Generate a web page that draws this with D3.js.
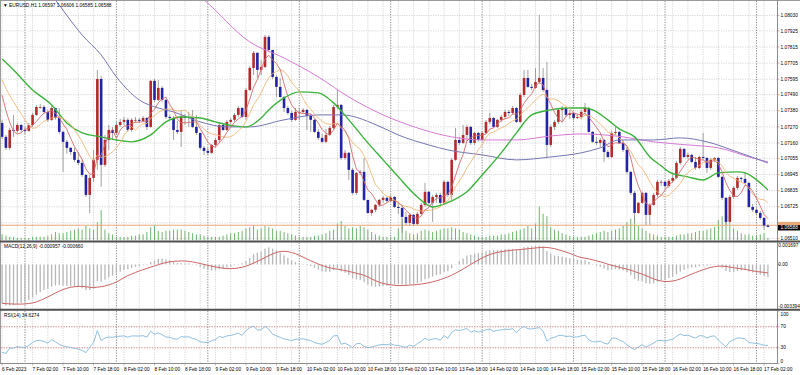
<!DOCTYPE html>
<html>
<head>
<meta charset="utf-8">
<script src="https://cdn.jsdelivr.net/npm/d3@7"></script>
<style>
html, body { margin: 0; padding: 0; background: #fff; }
svg { display: block; }
text { font-family: "Liberation Sans", Arial, sans-serif; font-size: 4.8px; fill: #000; }
</style>
</head>
<body>
<div id="chart"></div>
<script>
// EURUSD H1, 6 Feb 18:00 .. 17 Feb 03:00 (202 bars)
const symbolTitle = "\u25BC EURUSD,H1  1.06597 1.06606 1.06585 1.06588";
const macdTitle = "MACD(12,26,9) -0.000957 -0.000660";
const rsiTitle = "RSI(14) 34.6274";

// closes of the bars just before the window (only used to warm up the fast averages)
const priorCloses = [1.07713,1.07706,1.07686,1.07699,1.07672,1.07645,1.07659,1.07536,1.07386];
const firstOpen = 1.07297;

const closes = [
  1.07202,1.07127,1.07249,1.07243,1.07283,1.07249,1.07243,1.07283,1.07352,1.07406,
  1.07406,1.07372,1.07318,1.07399,1.07331,1.07236,1.07168,1.07127,1.07099,1.07045,
  1.07024,1.06942,1.06806,1.06922,1.07045,1.07597,1.07011,1.07181,1.07249,1.07229,
  1.07283,1.07304,1.07318,1.07249,1.07318,1.07318,1.07311,1.07331,1.07270,1.07584,
  1.07454,1.07536,1.07454,1.07338,1.07331,1.07249,1.07236,1.07345,1.07331,1.07338,
  1.07270,1.07229,1.07127,1.07106,1.07093,1.07147,1.07181,1.07283,1.07249,1.07304,
  1.07318,1.07352,1.07399,1.07338,1.07522,1.07672,1.07775,1.07659,1.07679,1.07884,
  1.07795,1.07611,1.07543,1.07474,1.07399,1.07365,1.07318,1.07372,1.07372,1.07386,
  1.07345,1.07318,1.07236,1.07195,1.07168,1.07215,1.07263,1.07406,1.07420,1.07058,
  1.07093,1.06977,1.06820,1.06956,1.06963,1.06772,1.06683,1.06704,1.06738,1.06772,
  1.06786,1.06765,1.06792,1.06724,1.06717,1.06656,1.06615,1.06670,1.06608,1.06677,
  1.06738,1.06827,1.06752,1.06792,1.06806,1.06752,1.06895,1.06806,1.07045,1.07181,
  1.07161,1.07215,1.07270,1.07161,1.07229,1.07181,1.07229,1.07304,1.07331,1.07270,
  1.07318,1.07338,1.07372,1.07365,1.07399,1.07304,1.07488,1.07604,1.07543,1.07536,
  1.07577,1.07604,1.07522,1.07147,1.07270,1.07304,1.07386,1.07399,1.07352,1.07365,
  1.07331,1.07338,1.07372,1.07399,1.07236,1.07168,1.07161,1.07181,1.07099,1.07065,
  1.07229,1.07236,1.07161,1.07113,1.06963,1.06820,1.06683,1.06752,1.06820,1.06670,
  1.06738,1.06806,1.06895,1.06895,1.06867,1.06902,1.06922,1.07024,1.07120,1.07065,
  1.07079,1.07031,1.06990,1.07065,1.07058,1.06990,1.07045,1.07058,1.06929,1.06786,
  1.06622,1.06792,1.06854,1.06922,1.06915,1.06888,1.06724,1.06704,1.06683,1.06649,
  1.06597,1.06588
];

const highs = [
  1.07318,1.07215,1.07263,1.07352,1.07297,1.07290,1.07270,1.07297,1.07365,1.07420,
  1.07427,1.07420,1.07386,1.07413,1.07399,1.07399,1.07243,1.07181,1.07133,1.07127,
  1.07099,1.07045,1.06949,1.06942,1.07113,1.07659,1.07618,1.07215,1.07283,1.07270,
  1.07304,1.07324,1.07338,1.07331,1.07331,1.07338,1.07331,1.07345,1.07338,1.07590,
  1.07597,1.07590,1.07549,1.07461,1.07352,1.07345,1.07311,1.07386,1.07359,1.07372,
  1.07386,1.07352,1.07222,1.07140,1.07127,1.07154,1.07195,1.07297,1.07290,1.07318,
  1.07331,1.07365,1.07413,1.07406,1.07536,1.07686,1.07788,1.07781,1.07727,1.07897,
  1.07897,1.07795,1.07624,1.07604,1.07481,1.07413,1.07379,1.07399,1.07399,1.07399,
  1.07393,1.07359,1.07324,1.07256,1.07222,1.07256,1.07277,1.07420,1.07522,1.07427,
  1.07113,1.07099,1.06990,1.06963,1.06977,1.07058,1.06772,1.06711,1.06745,1.06779,
  1.06799,1.06792,1.06806,1.06799,1.06752,1.06731,1.06690,1.06683,1.06677,1.06690,
  1.06752,1.06888,1.06833,1.06806,1.06820,1.06820,1.06908,1.06902,1.07058,1.07263,
  1.07202,1.07283,1.07283,1.07277,1.07236,1.07236,1.07243,1.07318,1.07365,1.07338,
  1.07324,1.07352,1.07386,1.07386,1.07413,1.07406,1.07502,1.07659,1.07659,1.07563,
  1.07672,1.08034,1.07672,1.07713,1.07283,1.07318,1.07399,1.07413,1.07406,1.07386,
  1.07372,1.07359,1.07386,1.07434,1.07406,1.07243,1.07202,1.07195,1.07188,1.07113,
  1.07243,1.07270,1.07243,1.07181,1.07133,1.06969,1.06833,1.06758,1.06827,1.06827,
  1.06752,1.06820,1.06908,1.06908,1.06902,1.06915,1.06956,1.07038,1.07133,1.07127,
  1.07093,1.07086,1.07065,1.07072,1.07229,1.07065,1.07058,1.07065,1.07065,1.06936,
  1.06792,1.06806,1.06867,1.06936,1.06929,1.06963,1.06895,1.06745,1.06717,1.06697,
  1.06656,1.06606
];

const lows = [
  1.07188,1.07113,1.07113,1.07202,1.07229,1.07236,1.07222,1.07236,1.07270,1.07345,
  1.07393,1.07365,1.07304,1.07311,1.07318,1.07222,1.06963,1.07086,1.07079,1.07031,
  1.07011,1.06929,1.06792,1.06683,1.06895,1.06977,1.06861,1.06997,1.07113,1.07181,
  1.07215,1.07270,1.07283,1.07236,1.07236,1.07297,1.07297,1.07304,1.07249,1.07263,
  1.07440,1.07447,1.07440,1.07324,1.07318,1.07181,1.07222,1.07133,1.07283,1.07270,
  1.07263,1.07215,1.07113,1.07079,1.07079,1.07086,1.07133,1.07161,1.07243,1.07243,
  1.07290,1.07304,1.07338,1.07331,1.07318,1.07515,1.07624,1.07604,1.07624,1.07672,
  1.07781,1.07597,1.07474,1.07468,1.07372,1.07352,1.07304,1.07311,1.07318,1.07359,
  1.07249,1.07236,1.07229,1.07181,1.07161,1.07161,1.07208,1.07249,1.07393,1.07045,
  1.07045,1.06908,1.06806,1.06806,1.06942,1.06765,1.06677,1.06663,1.06690,1.06724,
  1.06752,1.06752,1.06758,1.06717,1.06677,1.06547,1.06601,1.06595,1.06595,1.06601,
  1.06670,1.06724,1.06738,1.06622,1.06752,1.06738,1.06738,1.06792,1.06772,1.07038,
  1.07147,1.07154,1.07174,1.07147,1.07147,1.07168,1.07174,1.07222,1.07290,1.07263,
  1.07263,1.07304,1.07324,1.07345,1.07352,1.07297,1.07297,1.07474,1.07536,1.07522,
  1.07529,1.07563,1.07509,1.07065,1.07133,1.07249,1.07290,1.07304,1.07338,1.07324,
  1.07318,1.07324,1.07324,1.07359,1.07229,1.07161,1.07147,1.07133,1.07031,1.07058,
  1.07058,1.07215,1.07154,1.07099,1.06949,1.06806,1.06622,1.06677,1.06745,1.06601,
  1.06601,1.06731,1.06792,1.06867,1.06854,1.06854,1.06888,1.06915,1.07011,1.07058,
  1.07052,1.07024,1.06977,1.06983,1.07045,1.06956,1.06977,1.07031,1.06922,1.06772,
  1.06601,1.06601,1.06779,1.06840,1.06895,1.06881,1.06717,1.06690,1.06670,1.06636,
  1.06567,1.06585
];

const volumes = [
  1250,1000,750,750,500,500,500,500,750,750,
  750,750,1000,1250,1750,1500,1500,1750,2000,2250,
  2500,2250,3000,2500,2250,3750,6250,2250,1500,1250,
  750,750,750,750,1000,1000,1250,1250,1750,2750,
  3000,2000,1750,2000,2000,2250,2250,2250,2000,1750,
  1500,1250,1250,1000,750,750,750,750,1000,1250,
  1500,1500,1750,2000,2500,2750,3000,2250,2500,3000,
  2750,2500,2000,2000,1750,1500,1250,1000,750,750,
  750,750,1000,1000,1250,1500,2000,2250,3500,4000,
  3000,2500,2750,2500,3000,2750,2250,1750,1250,1000,
  750,750,750,750,2500,4500,2000,1500,1250,1500,
  2000,2250,2000,1750,2000,2250,2500,2500,2750,2500,
  2250,1750,1500,1250,1000,750,750,750,1000,1000,
  1000,1250,1250,1500,1750,2000,2250,2500,3000,2500,
  3500,7000,5500,5000,2750,2250,2000,1500,1250,1000,
  750,750,750,750,1000,1250,1500,1750,2000,1750,
  2000,2250,2500,3000,3750,4500,5000,3000,2500,2000,
  1500,1250,1000,750,750,750,750,1000,1250,1250,
  1500,1500,1750,2000,2000,2250,2500,2750,4250,5000,
  4500,3000,2500,2000,1500,1250,1250,1000,1000,1250,
  1500,500
];

// slow moving averages, read as [bar index, price]
const maGreen = [[0,1.07734],[3,1.07659],[8,1.07522],[13,1.07420],[17,1.07297],[21,1.07229],[26,1.07202],[30,1.07181],[34,1.07168],[39,1.07215],[43,1.07304],[47,1.07338],[52,1.07331],[56,1.07304],[61,1.07277],[64,1.07270],[68,1.07331],[70,1.07386],[74,1.07468],[78,1.07509],[83,1.07502],[87,1.07434],[91,1.07318],[96,1.07161],[100,1.07045],[104,1.06929],[109,1.06792],[113,1.06724],[118,1.06765],[122,1.06827],[126,1.06942],[131,1.07093],[135,1.07229],[139,1.07352],[144,1.07386],[148,1.07399],[153,1.07399],[155,1.07386],[159,1.07318],[162,1.07256],[166,1.07202],[170,1.07065],[173,1.07004],[175,1.06963],[180,1.06929],[184,1.06908],[188,1.06956],[193,1.06963],[195,1.06956],[199,1.06888],[201,1.06840]];
const maBlue = [[10,1.08272],[14,1.08136],[21,1.07897],[26,1.07761],[30,1.07611],[36,1.07454],[41,1.07399],[45,1.07372],[52,1.07304],[59,1.07270],[65,1.07270],[74,1.07318],[83,1.07352],[89,1.07352],[100,1.07263],[104,1.07215],[112,1.07147],[117,1.07113],[126,1.07079],[135,1.07045],[144,1.07065],[152,1.07093],[157,1.07127],[162,1.07181],[171,1.07181],[178,1.07195],[185,1.07168],[193,1.07099],[201,1.07024]];
const maPink = [[49,1.08218],[53,1.08136],[65,1.07850],[74,1.07740],[83,1.07611],[91,1.07474],[100,1.07352],[109,1.07263],[118,1.07202],[126,1.07181],[135,1.07181],[144,1.07208],[152,1.07222],[163,1.07202],[171,1.07168],[180,1.07147],[188,1.07127],[197,1.07058],[201,1.07031]];
const fastPeriod = 5, midPeriod = 10;

const hLinePrice = 1.06599;
const lastPrice = 1.06588;

// indicator warm-up states (the window starts mid-trend)
const ema12Seed = 1.07700, ema26Seed = 1.07980, signalSeed = -0.00300;
const rsiGainSeed = 0.00015, rsiLossSeed = 0.00042;

const priceTicks = ["1.08030","1.07925","1.07815","1.07705","1.07595","1.07490","1.07380","1.07270","1.07160","1.07055","1.06945","1.06835","1.06725","1.06615","1.06510"];
const macdTicks = ["0.001697","0.00","-0.003394"];
const rsiTicks = ["100","70","30","0"];
const rsiLevels = [70, 30];

const timeLabels = ["6 Feb 2023","7 Feb 02:00","7 Feb 10:00","7 Feb 18:00","8 Feb 02:00","8 Feb 10:00","8 Feb 18:00","9 Feb 02:00","9 Feb 10:00","9 Feb 18:00","10 Feb 02:00","10 Feb 10:00","10 Feb 18:00","13 Feb 02:00","13 Feb 10:00","13 Feb 18:00","14 Feb 02:00","14 Feb 10:00","14 Feb 18:00","15 Feb 02:00","15 Feb 10:00","15 Feb 18:00","16 Feb 02:00","16 Feb 10:00","16 Feb 18:00","17 Feb 02:00"];
const labelEvery = 8;
const dayStarts = [6, 30, 54, 78, 102, 126, 150, 174, 198];

// ---------- layout
const W = 800, H = 375;
const axisX = 777.5;
const panels = {
  main: { top: 1, bottom: 240.5 },
  macd: { top: 242.5, bottom: 308.5 },
  rsi:  { top: 311, bottom: 363.5 }
};

const n = closes.length;
const x = d3.scaleLinear().domain([0, n - 1]).range([2.1, 2.1 + (n - 1) * 3.81]);
const yP = d3.scaleLinear().domain([1.06510, 1.08030]).range([238.3, 15.5]);
const yM = d3.scaleLinear().domain([-0.003394, 0.001697]).range([panels.macd.bottom, panels.macd.top]);
const yR = d3.scaleLinear().domain([0, 100]).range([panels.rsi.bottom, panels.rsi.top]);
const yV = d3.scaleLinear().domain([0, 7000]).range([0, 34]);

// ---------- indicators
const all = priorCloses.concat(closes);
function sma(period) {
  return closes.map((c, i) => {
    let j = i + priorCloses.length;
    return d3.mean(all.slice(Math.max(0, j - period + 1), j + 1));
  });
}
const maFast = sma(fastPeriod);
const maMid = sma(midPeriod);

let e12 = ema12Seed, e26 = ema26Seed;
const macd = closes.map(c => {
  e12 += (2 / 13) * (c - e12);
  e26 += (2 / 27) * (c - e26);
  return e12 - e26;
});
const signal = macd.map((m, i) => {
  let s = 0;
  for (let k = i - 8; k <= i; k++) s += k < 0 ? signalSeed : macd[k];
  return s / 9;
});

let ag = rsiGainSeed, al = rsiLossSeed, prev = priorCloses[priorCloses.length - 1];
const rsi = closes.map(c => {
  let d = c - prev;
  prev = c;
  ag = (ag * 13 + Math.max(d, 0)) / 14;
  al = (al * 13 + Math.max(-d, 0)) / 14;
  return 100 - 100 / (1 + ag / al);
});

// ---------- svg
const svg = d3.select("#chart").append("svg").attr("width", W).attr("height", H);
svg.append("rect").attr("width", W).attr("height", H).attr("fill", "#fff");

const defs = svg.append("defs");
Object.keys(panels).forEach(k => {
  let p = panels[k];
  defs.append("clipPath").attr("id", "clip-" + k)
    .append("rect").attr("x", 1).attr("y", p.top).attr("width", axisX - 1).attr("height", p.bottom - p.top);
});

function panelGroup(k) {
  return svg.append("g").attr("clip-path", "url(#clip-" + k + ")");
}

// grid + day separators in every panel
Object.keys(panels).forEach(k => {
  let p = panels[k];
  let g = panelGroup(k);
  g.selectAll(".vg").data(d3.range(0, n, 4)).enter().append("line")
    .attr("x1", d => x(d)).attr("x2", d => x(d))
    .attr("y1", p.top).attr("y2", p.bottom)
    .attr("stroke", "#c6c6c6").attr("stroke-width", 0.7).attr("stroke-dasharray", "1.2,1.2");
  g.selectAll(".ds").data(dayStarts).enter().append("line")
    .attr("x1", d => x(d)).attr("x2", d => x(d))
    .attr("y1", p.top).attr("y2", p.bottom)
    .attr("stroke", "#6e6e6e").attr("stroke-width", 0.8).attr("stroke-dasharray", "1.3,1.3");
});

const gMain = panelGroup("main");
gMain.selectAll(".hg").data(priceTicks).enter().append("line")
  .attr("x1", 1).attr("x2", axisX)
  .attr("y1", d => yP(+d)).attr("y2", d => yP(+d))
  .attr("stroke", "#c6c6c6").attr("stroke-width", 0.7).attr("stroke-dasharray", "1.2,1.2");

// volumes
gMain.selectAll(".vol").data(volumes).enter().append("line")
  .attr("x1", (d, i) => x(i)).attr("x2", (d, i) => x(i))
  .attr("y1", panels.main.bottom).attr("y2", d => panels.main.bottom - yV(d))
  .attr("stroke", "#5fae5f").attr("stroke-width", 0.9);

// horizontal line
gMain.append("line").attr("x1", 1).attr("x2", axisX)
  .attr("y1", yP(hLinePrice)).attr("y2", yP(hLinePrice))
  .attr("stroke", "#eaa878").attr("stroke-width", 1);

// candles
const candles = closes.map((c, i) => {
  let o = i === 0 ? firstOpen : closes[i - 1];
  return { i: i, o: o, c: c, h: Math.max(highs[i], o, c), l: Math.min(lows[i], o, c) };
});
gMain.selectAll(".wick").data(candles).enter().append("line")
  .attr("x1", d => x(d.i)).attr("x2", d => x(d.i))
  .attr("y1", d => yP(d.h)).attr("y2", d => yP(d.l))
  .attr("stroke", "#8a8a8a").attr("stroke-width", 0.8);
gMain.selectAll(".body").data(candles).enter().append("rect")
  .attr("x", d => x(d.i) - 1.3).attr("width", 2.6)
  .attr("y", d => yP(Math.max(d.o, d.c)))
  .attr("height", d => Math.max(0.8, Math.abs(yP(d.o) - yP(d.c))))
  .attr("fill", d => d.c >= d.o ? "#b42b2b" : "#2323a6");

// moving averages
const lineRead = d3.line().x(d => x(d[0])).y(d => yP(d[1])).curve(d3.curveMonotoneX);
const lineCalc = d3.line().x((d, i) => x(i)).y(d => yP(d));
gMain.append("path").attr("d", lineRead(maPink)).attr("fill", "none").attr("stroke", "#d67ad6").attr("stroke-width", 1);
gMain.append("path").attr("d", lineRead(maBlue)).attr("fill", "none").attr("stroke", "#7676b4").attr("stroke-width", 1);
gMain.append("path").attr("d", lineRead(maGreen)).attr("fill", "none").attr("stroke", "#3cb43c").attr("stroke-width", 1.4);
gMain.append("path").attr("d", lineCalc(maMid)).attr("fill", "none").attr("stroke", "#f2b878").attr("stroke-width", 0.9);
gMain.append("path").attr("d", lineCalc(maFast)).attr("fill", "none").attr("stroke", "#d86a6a").attr("stroke-width", 0.9);

// MACD
const gMacd = panelGroup("macd");
gMacd.selectAll(".hist").data(macd).enter().append("rect")
  .attr("x", (d, i) => x(i) - 0.65).attr("width", 1.3)
  .attr("y", d => Math.min(yM(d), yM(0)))
  .attr("height", d => Math.max(0.4, Math.abs(yM(d) - yM(0))))
  .attr("fill", "#b8b8b8");
gMacd.append("path").attr("d", d3.line().x((d, i) => x(i)).y(d => yM(d))(signal))
  .attr("fill", "none").attr("stroke", "#cc6464").attr("stroke-width", 1);

// RSI
const gRsi = panelGroup("rsi");
gRsi.selectAll(".lvl").data(rsiLevels).enter().append("line")
  .attr("x1", 1).attr("x2", axisX).attr("y1", d => yR(d)).attr("y2", d => yR(d))
  .attr("stroke", "#d07474").attr("stroke-width", 0.9).attr("stroke-dasharray", "1.3,1.3");
gRsi.append("path").attr("d", d3.line().x((d, i) => x(i)).y(d => yR(d))(rsi))
  .attr("fill", "none").attr("stroke", "#84b8da").attr("stroke-width", 0.9);

// ---------- frame
const frame = svg.append("g");
frame.append("line").attr("x1", 0).attr("x2", W).attr("y1", 0.5).attr("y2", 0.5).attr("stroke", "#9a9a9a");
frame.append("line").attr("x1", 0.5).attr("x2", 0.5).attr("y1", 0).attr("y2", panels.rsi.bottom).attr("stroke", "#9a9a9a");
frame.append("line").attr("x1", axisX).attr("x2", axisX).attr("y1", 0).attr("y2", panels.rsi.bottom).attr("stroke", "#8c8c8c");
frame.append("line").attr("x1", 0).attr("x2", axisX).attr("y1", panels.rsi.bottom).attr("y2", panels.rsi.bottom).attr("stroke", "#8c8c8c");
[241.5, 309.8].forEach(yy => {
  frame.append("line").attr("x1", 0).attr("x2", W).attr("y1", yy).attr("y2", yy)
    .attr("stroke", "#505050").attr("stroke-width", 2);
});

// ---------- axis labels
const axis = svg.append("g");
const lastY = yP(lastPrice) + 0.8;
function yLabel(y, text, p, lx) {
  let yy = Math.min(Math.max(y, p.top + 3), p.bottom - 2.6);
  axis.append("line").attr("x1", axisX).attr("x2", axisX + 2).attr("y1", y).attr("y2", y).attr("stroke", "#8c8c8c").attr("stroke-width", 0.6);
  // labels sitting under the price tags are hidden, as in the terminal
  if (p === panels.main && Math.abs(yy - lastY) < 6) return;
  axis.append("text").attr("x", lx).attr("y", yy).attr("dy", "0.35em").text(text);
}
priceTicks.forEach(t => yLabel(yP(+t), t, panels.main, 780.5));
macdTicks.forEach(t => yLabel(yM(+t), t, panels.macd, 778.3));
rsiTicks.forEach(t => yLabel(yR(+t), t, panels.rsi, 780.5));

// horizontal line tag (mostly covered), then the current price tag on top
let hy = yP(hLinePrice);
axis.append("rect").attr("x", 778).attr("y", hy - 3.4).attr("width", 22).attr("height", 5.8).attr("fill", "#eaa878");
axis.append("rect").attr("x", 778).attr("y", lastY - 2.6).attr("width", 22).attr("height", 5.4).attr("fill", "#000");
axis.append("text").attr("x", 780.5).attr("y", lastY).attr("dy", "0.35em").style("fill", "#fff").text(lastPrice.toFixed(5));

// time axis
timeLabels.forEach((t, k) => {
  let i = k * labelEvery;
  axis.append("line").attr("x1", x(i)).attr("x2", x(i)).attr("y1", panels.rsi.bottom).attr("y2", panels.rsi.bottom + 2)
    .attr("stroke", "#8c8c8c").attr("stroke-width", 0.6);
  axis.append("text").attr("x", x(i)).attr("y", 370.8).text(t);
});

// titles
svg.append("text").attr("x", 3).attr("y", 7.2).text(symbolTitle);
svg.append("text").attr("x", 4).attr("y", 247.8).text(macdTitle);
svg.append("text").attr("x", 4).attr("y", 316.8).text(rsiTitle);
</script>
</body>
</html>
